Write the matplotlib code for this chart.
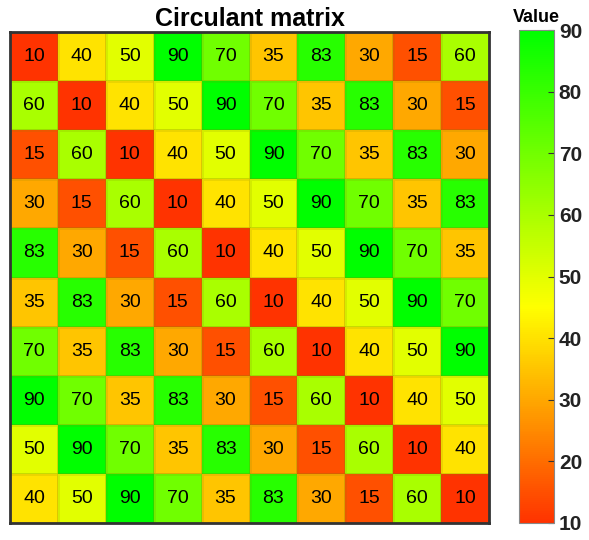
import numpy as np
import matplotlib
matplotlib.use("Agg")
import matplotlib.pyplot as plt
from matplotlib.colors import LinearSegmentedColormap

plt.rcParams['font.family'] = ['Liberation Sans', 'DejaVu Sans']

# first row of the circulant matrix, each row shifted right by one
first_row = [10, 40, 50, 90, 70, 35, 83, 30, 15, 60]
n = len(first_row)
matrix = np.array([np.roll(first_row, i) for i in range(n)])

cbar_ticks = [10, 20, 30, 40, 50, 60, 70, 80, 90]

cmap = LinearSegmentedColormap.from_list(
    "ryg", [(0.0, (1.0, 0.2, 0.0)), (35 / 80, (1.0, 1.0, 0.0)), (1.0, (0.0, 1.0, 0.0))])

fig = plt.figure(figsize=(5.89, 5.4), dpi=100)
ax = fig.add_axes([10 / 589, 17 / 540, 479 / 589, 491 / 540])
cax = fig.add_axes([519 / 589, 17 / 540, 35 / 589, 493 / 540])

im = ax.pcolormesh(matrix, cmap=cmap, vmin=10, vmax=90,
                   edgecolor=(0.5, 0.5, 0.0, 0.15), linewidth=0.8)
ax.set_xlim(0, n)
ax.set_ylim(n, 0)
ax.set_xticks([])
ax.set_yticks([])
for s in ax.spines.values():
    s.set_linewidth(2)
    s.set_color("#333333")

for i in range(n):
    for j in range(n):
        ax.text(j + 0.5, i + 0.5, str(matrix[i, j]), ha="center", va="center",
                fontsize=14, color="black")

ax.set_title("Circulant matrix", fontsize=18, fontweight="bold", pad=4)

cb = fig.colorbar(im, cax=cax, ticks=cbar_ticks)
cb.outline.set_edgecolor("#888888")
cb.outline.set_linewidth(0.8)
cax.tick_params(labelsize=15, length=4, direction="in", color="#333333")
for lbl in cax.get_yticklabels():
    lbl.set_fontweight("bold")
    lbl.set_color("#222222")
cax.set_title("Value", fontsize=13, fontweight="bold", pad=6)

fig.savefig("out.png", dpi=100)
